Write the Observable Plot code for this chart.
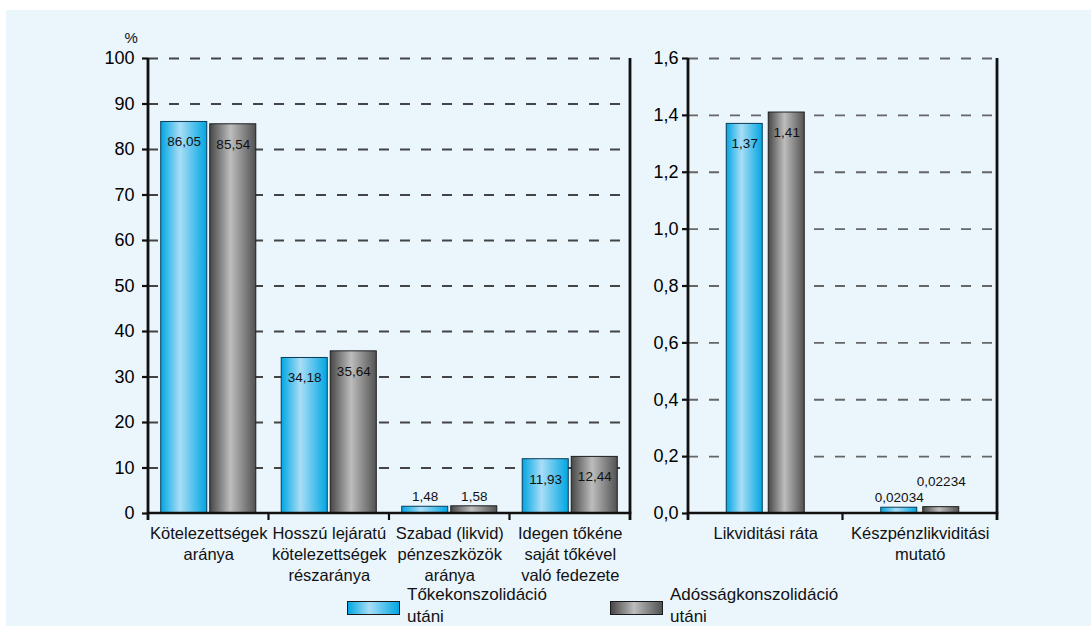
<!DOCTYPE html>
<html>
<head>
<meta charset="utf-8">
<script src="https://cdn.jsdelivr.net/npm/d3@7"></script>
<script src="https://cdn.jsdelivr.net/npm/@observablehq/plot@0.6"></script>
<style>
  body { margin: 0; width: 1091px; height: 626px; background: #fff; position: relative; overflow: hidden;
         font-family: "Liberation Sans", Arial, sans-serif; }
  #panel { position: absolute; left: 6px; top: 10px; width: 1085px; height: 616px; background: #EAF5FC; }
  .chart { position: absolute; top: 0; }
  .legend-item { position: absolute; top: 584px; display: flex; align-items: flex-start; }
  .swatch { width: 51px; height: 12px; margin-top: 17px; border: 1px solid #1a1a1a; }
  .legend-text { margin-left: 7px; font-size: 17px; line-height: 22px; white-space: pre; color: #111; }
</style>
</head>
<body>
<div id="panel"></div>
<svg width="0" height="0" style="position:absolute">
  <defs>
    <linearGradient id="gradEquity" x1="0" x2="1" y1="0" y2="0">
      <stop offset="0" stop-color="#00A6E3"/>
      <stop offset="0.42" stop-color="#A9DDF6"/>
      <stop offset="1" stop-color="#00A6E3"/>
    </linearGradient>
    <linearGradient id="gradDebt" x1="0" x2="1" y1="0" y2="0">
      <stop offset="0" stop-color="#474747"/>
      <stop offset="0.45" stop-color="#BDBDBD"/>
      <stop offset="1" stop-color="#525252"/>
    </linearGradient>
  </defs>
</svg>
<div id="left" class="chart" style="left:0px"></div>
<div id="right" class="chart" style="left:640px"></div>
<div id="legend"></div>
<script>
// Ratio indicators (percent) after equity vs. debt consolidation
const leftCategories = [
  "Kötelezettségek\naránya",
  "Hosszú lejáratú\nkötelezettségek\nrészaránya",
  "Szabad (likvid)\npénzeszközök\naránya",
  "Idegen tőkéne\nsaját tőkével\nvaló fedezete"
];
const leftEquity = [86.05, 34.18, 1.48, 11.93];
const leftDebt = [85.54, 35.64, 1.58, 12.44];
const leftTicks = [0, 10, 20, 30, 40, 50, 60, 70, 80, 90, 100];
const leftUnit = "%";

// Liquidity indicators (ratios)
const rightCategories = ["Likviditási ráta", "Készpénzlikviditási\nmutató"];
const rightEquity = [1.37, 0.02034];
const rightDebt = [1.41, 0.02234];
const rightTicks = [0, 0.2, 0.4, 0.6, 0.8, 1.0, 1.2, 1.4, 1.6];

const seriesNames = ["Tőkekonszolidáció\nutáni", "Adósságkonszolidáció\nutáni"];
const seriesFills = ["url(#gradEquity)", "url(#gradDebt)"];
const seriesStrokes = ["#0b3c58", "#1e1e1e"];

const FONT = "Liberation Sans, Arial, sans-serif";
const comma = v => String(v).replace(".", ",");

// Baseline, outer panel sides and category separators drawn from the band scale
function panelFrame(yMax) {
  return (index, scales) => {
    const x = scales.x, y = scales.y;
    const dom = x.domain();
    const bw = x.bandwidth();
    const edges = dom.map(c => x(c)).concat([x(dom[dom.length - 1]) + bw]);
    const y0 = y(0), yTop = y(yMax), drop = 7;
    const g = d3.create("svg:g").attr("stroke", "#111").attr("fill", "none");
    g.append("line").attr("x1", edges[0] - 1.3).attr("x2", edges[edges.length - 1] + 1.3)
      .attr("y1", y0).attr("y2", y0).attr("stroke-width", 2.6);
    edges.forEach((e, i) => {
      const outer = i === 0 || i === edges.length - 1;
      g.append("line").attr("x1", e).attr("x2", e)
        .attr("y1", outer ? yTop : y0).attr("y2", y0 + drop)
        .attr("stroke-width", outer ? 2.8 : 2.2);
    });
    return g.node();
  };
}

function panel({categories, equity, debt, ticks, tickFormat, yMax, width, marginLeft, marginRight,
                barFrac, gap, tickPadding, gridStroke, unit}) {
  const height = 600, marginTop = 58, marginBottom = 87;
  const band = (width - marginLeft - marginRight) / categories.length;
  const barW = band * barFrac;
  const outer = (band - 2 * barW - gap) / 2;
  const insets = [
    {insetLeft: outer, insetRight: band - outer - barW},
    {insetLeft: outer + barW + gap, insetRight: outer}
  ];
  const series = [equity, debt];
  const labelSize = 13.5;
  const marks = [
    Plot.ruleY(ticks.filter(t => t > 0), {stroke: gridStroke, strokeWidth: 1.8, strokeDasharray: "10,11"})
  ];
  series.forEach((vals, s) => {
    const data = categories.map((c, i) => ({cat: c, value: vals[i]}));
    marks.push(Plot.barY(data, {
      x: "cat", y: "value", fill: seriesFills[s], stroke: seriesStrokes[s], strokeWidth: 1,
      insetLeft: insets[s].insetLeft, insetRight: insets[s].insetRight
    }));
    const dx = insets[s].insetLeft + barW / 2 - band / 2;
    const inside = d => d.value > 0.08 * yMax;
    const wide = d => comma(d.value).length * 0.556 * labelSize > barW;
    const lifted = d => !inside(d) && s === 1 && wide(d);
    const common = {x: "cat", y: "value", text: d => comma(d.value), dx, fontSize: labelSize, fill: "#111"};
    marks.push(Plot.text(data, {...common, filter: inside, dy: 20}));
    marks.push(Plot.text(data, {...common, filter: d => !inside(d) && !lifted(d), dy: -10}));
    marks.push(Plot.text(data, {...common, filter: lifted, dy: -25}));
  });
  marks.push(
    Plot.axisY({ticks, tickFormat, tickSize: 6, tickPadding, fontSize: 18, strokeWidth: 2.2, stroke: "#111", label: null}),
    Plot.text(categories, {x: d => d, y: 0, text: d => d, lineAnchor: "top", dy: 10,
                           fontSize: 16.5, lineHeight: 1.28, fill: "#111"}),
    panelFrame(yMax)
  );
  if (unit) marks.push(Plot.text([unit], {frameAnchor: "top-left", text: d => d, dx: -24, dy: -26, fontSize: 15, fill: "#111"}));
  return Plot.plot({
    width, height, marginLeft, marginRight, marginTop, marginBottom,
    style: {background: "transparent", fontFamily: FONT, overflow: "visible"},
    x: {domain: categories, padding: 0, round: false, axis: null},
    y: {domain: [0, yMax], axis: null},
    marks
  });
}

document.getElementById("left").append(panel({
  categories: leftCategories, equity: leftEquity, debt: leftDebt, ticks: leftTicks,
  tickFormat: d => String(d), yMax: 100, width: 640, marginLeft: 148, marginRight: 10,
  barFrac: 0.382, gap: 3, tickPadding: 8, gridStroke: "#444", unit: leftUnit
}));

document.getElementById("right").append(panel({
  categories: rightCategories, equity: rightEquity, debt: rightDebt, ticks: rightTicks,
  tickFormat: d => d3.format(".1f")(d).replace(".", ","), yMax: 1.6, width: 451, marginLeft: 48, marginRight: 94,
  barFrac: 0.233, gap: 6, tickPadding: 4, gridStroke: "#666", unit: null
}));

// Legend
const legend = document.getElementById("legend");
const legendLeft = [347, 610];
seriesNames.forEach((name, i) => {
  const item = document.createElement("div");
  item.className = "legend-item";
  item.style.left = legendLeft[i] + "px";
  const sw = document.createElement("div");
  sw.className = "swatch";
  sw.style.background = i === 0
    ? "linear-gradient(to right, #00A6E3, #A9DDF6 42%, #00A6E3)"
    : "linear-gradient(to right, #474747, #BDBDBD 45%, #525252)";
  const tx = document.createElement("div");
  tx.className = "legend-text";
  tx.textContent = name;
  item.append(sw, tx);
  legend.append(item);
});
</script>
</body>
</html>
